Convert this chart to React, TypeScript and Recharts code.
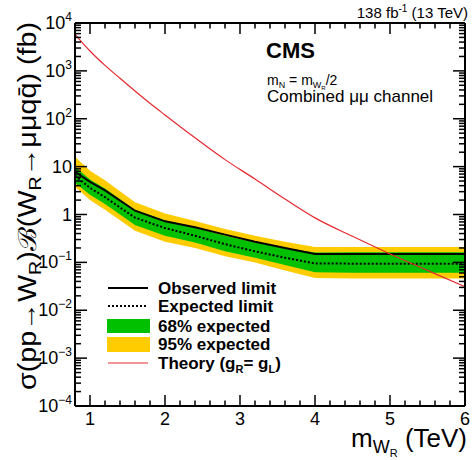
import React from "react";
import { ComposedChart, Area, Line, XAxis, YAxis } from "recharts";

const FONT = "'Liberation Sans', Arial, Helvetica, sans-serif";

// W_R mass points (TeV) for the limits
const masses = [0.8, 1.0, 1.2, 1.6, 2.0, 2.4, 2.8, 3.2, 3.6, 4.0, 4.5, 5.0, 5.5, 6.0];
const observed = [7.8, 4.8, 3.2, 1.2, 0.72, 0.54, 0.38, 0.27, 0.2, 0.15, 0.15, 0.15, 0.15, 0.15];
const expected = [6.5, 3.6, 2.3, 0.86, 0.52, 0.36, 0.24, 0.17, 0.125, 0.095, 0.094, 0.094, 0.094, 0.094];
const band68Low = [4.6, 2.6, 1.65, 0.6, 0.36, 0.26, 0.17, 0.125, 0.088, 0.062, 0.061, 0.061, 0.061, 0.061];
const band68High = [10, 5.4, 3.5, 1.25, 0.76, 0.53, 0.36, 0.26, 0.2, 0.16, 0.162, 0.162, 0.162, 0.162];
const band95Low = [3.8, 2.0, 1.25, 0.46, 0.27, 0.2, 0.135, 0.1, 0.068, 0.047, 0.046, 0.046, 0.046, 0.046];
const band95High = [16, 8.2, 5.2, 1.8, 1.05, 0.73, 0.5, 0.36, 0.27, 0.21, 0.21, 0.21, 0.21, 0.21];

// theory cross section (g_R = g_L)
const theoryMasses = [0.8, 1.0, 1.2, 1.4, 1.6, 1.8, 2.0, 2.4, 2.8, 3.2, 3.6, 4.0, 4.5, 5.0, 5.5, 6.0];
const theoryXsec = [5800, 2600, 1300, 700, 380, 210, 120, 40, 14, 5.5, 2.1, 0.85, 0.35, 0.15, 0.068, 0.031];

const yDecades = [-4, -3, -2, -1, 0, 1, 2, 3];
const xMajor = [1, 2, 3, 4, 5, 6];

const limitData = masses.map((m, i) => ({
  m,
  obs: observed[i],
  exp: expected[i],
  b68: [band68Low[i], band68High[i]],
  b95: [band95Low[i], band95High[i]],
}));
const theoryData = theoryMasses.map((m, i) => ({ m, theory: theoryXsec[i] }));

const yTicks = [
  ...yDecades.flatMap((e) => [1, 2, 3, 4, 5, 6, 7, 8, 9].map((k) => k * Math.pow(10, e))),
  1e4,
];
const xTicks = Array.from({ length: 26 }, (_, i) => +(1 + i * 0.2).toFixed(1));

// plot box that the margins / axis sizes below produce
const X_DOMAIN = [0.8, 6];
const Y_DOMAIN_EXP = [-4, 4];
const BOX = { left: 75, right: 465, top: 23, bottom: 406 };
const xPx = (v: number) =>
  BOX.left + ((v - X_DOMAIN[0]) / (X_DOMAIN[1] - X_DOMAIN[0])) * (BOX.right - BOX.left);
const yPx = (v: number) =>
  BOX.top + ((Y_DOMAIN_EXP[1] - Math.log10(v)) / (Y_DOMAIN_EXP[1] - Y_DOMAIN_EXP[0])) * (BOX.bottom - BOX.top);

function isMajorY(v: number) {
  const e = Math.round(Math.log10(v));
  return Math.abs(v / Math.pow(10, e) - 1) < 1e-6;
}

function yLabel(v: number) {
  const e = Math.round(Math.log10(v));
  if (e === 0) return <>1</>;
  if (e === 1) return <>10</>;
  return (
    <>
      10
      <tspan dy={-8} fontSize={12}>
        {e < 0 ? "\u2212" + -e : e}
      </tspan>
    </>
  );
}

function LeftTick(props: any) {
  const { x, y, payload } = props;
  if (!isMajorY(payload.value)) return <g />;
  return (
    <text x={x - 3} y={y + 6} textAnchor="end" fontSize={18} fontFamily={FONT} fill="#000">
      {yLabel(payload.value)}
    </text>
  );
}

function BottomTick(props: any) {
  const { x, y, payload } = props;
  if (!xMajor.includes(payload.value)) return <g />;
  return (
    <text x={x} y={y + 19} textAnchor="middle" fontSize={18} fontFamily={FONT} fill="#000">
      {payload.value}
    </text>
  );
}

const GREEN = "#00c000";
const YELLOW = "#ffcc00";
const RED = "#e42a30";

function TickMarks() {
  return (
    <g stroke="#000" strokeWidth={1.5}>
      {xTicks.map((v) => {
        const len = xMajor.includes(v) ? 11 : 5.5;
        const px = xPx(v);
        return (
          <g key={"x" + v}>
            <line x1={px} x2={px} y1={BOX.bottom} y2={BOX.bottom - len} />
            <line x1={px} x2={px} y1={BOX.top} y2={BOX.top + len} />
          </g>
        );
      })}
      {yTicks.map((v) => {
        const len = isMajorY(v) ? 12 : 6;
        const py = yPx(v);
        return (
          <g key={"y" + v}>
            <line x1={BOX.left} x2={BOX.left + len} y1={py} y2={py} />
            <line x1={BOX.right} x2={BOX.right - len} y1={py} y2={py} />
          </g>
        );
      })}
    </g>
  );
}

function Overlay() {
  const rows = [288, 306, 326, 344, 363];
  return (
    <svg
      width={472}
      height={460}
      style={{ position: "absolute", left: 0, top: 0, pointerEvents: "none" }}
      fontFamily={FONT}
    >
      <TickMarks />
      <text x={468} y={18} textAnchor="end" fontSize={15}>
        138 fb<tspan dy={-6} fontSize={10}>-1</tspan>
        <tspan dy={6}> (13 TeV)</tspan>
      </text>
      <text x={266} y={58} fontSize={22} fontWeight="bold">
        CMS
      </text>
      <text x={267} y={85} fontSize={14}>
        m<tspan dy={3} fontSize={9}>N</tspan>
        <tspan dy={-3}> = m</tspan>
        <tspan dy={3} fontSize={9}>W</tspan>
        <tspan dy={2} fontSize={6}>R</tspan>
        <tspan dy={-5}>/2</tspan>
      </text>
      <text x={267} y={102} fontSize={17}>
        Combined μμ channel
      </text>

      {/* y title */}
      <text
        transform="translate(36,22) rotate(-90)"
        textAnchor="end"
        fontSize={25}
        textLength={368}
        lengthAdjust="spacingAndGlyphs"
      >
        σ(pp→W<tspan dy={5} fontSize={17}>R</tspan>
        <tspan dy={-5}>)ℬ(W</tspan>
        <tspan dy={5} fontSize={17}>R</tspan>
        <tspan dy={-5}>→μμqq̄) (fb)</tspan>
      </text>

      {/* x title */}
      <text x={467} y={447} textAnchor="end" fontSize={26}>
        m<tspan dy={6} fontSize={18}>W</tspan>
        <tspan dy={4} fontSize={11}>R</tspan>
        <tspan dy={-10}> (TeV)</tspan>
      </text>

      {/* legend */}
      <line x1={108} x2={148} y1={rows[0]} y2={rows[0]} stroke="#000" strokeWidth={2} />
      <line x1={108} x2={148} y1={rows[1]} y2={rows[1]} stroke="#000" strokeWidth={2} strokeDasharray="2 2" />
      <rect x={107} y={rows[2] - 7} width={43} height={14} fill={GREEN} />
      <rect x={107} y={rows[3] - 7} width={43} height={15} fill={YELLOW} />
      <line x1={108} x2={148} y1={rows[4]} y2={rows[4]} stroke={RED} strokeWidth={1.2} />
      <g fontSize={17} fontWeight="bold">
        <text x={158} y={rows[0] + 6}>Observed limit</text>
        <text x={158} y={rows[1] + 6}>Expected limit</text>
        <text x={158} y={rows[2] + 6}>68% expected</text>
        <text x={158} y={rows[3] + 6}>95% expected</text>
        <text x={158} y={rows[4] + 6}>
          Theory (g<tspan dy={4} fontSize={11}>R</tspan>
          <tspan dy={-4}>= g</tspan>
          <tspan dy={4} fontSize={11}>L</tspan>
          <tspan dy={-4}>)</tspan>
        </text>
      </g>
    </svg>
  );
}

export default function App() {
  return (
    <div style={{ position: "absolute", left: 0, top: 0, width: 472, height: 460, background: "#fff" }}>
      <ComposedChart
        width={472}
        height={460}
        data={limitData}
        margin={{ top: 22, right: 6, left: 0, bottom: 0 }}
      >
        <Area
          xAxisId="b"
          yAxisId="l"
          dataKey="b95"
          type="linear"
          stroke="none"
          fill={YELLOW}
          fillOpacity={1}
          isAnimationActive={false}
        />
        <Area
          xAxisId="b"
          yAxisId="l"
          dataKey="b68"
          type="linear"
          stroke="none"
          fill={GREEN}
          fillOpacity={1}
          isAnimationActive={false}
        />
        <Line
          xAxisId="b"
          yAxisId="l"
          dataKey="exp"
          type="linear"
          stroke="#000"
          strokeWidth={2}
          strokeDasharray="2 2"
          dot={false}
          isAnimationActive={false}
        />
        <Line
          xAxisId="b"
          yAxisId="l"
          dataKey="obs"
          type="linear"
          stroke="#000"
          strokeWidth={2}
          dot={false}
          isAnimationActive={false}
        />
        <Line
          xAxisId="b"
          yAxisId="l"
          data={theoryData}
          dataKey="theory"
          type="monotone"
          stroke={RED}
          strokeWidth={1.2}
          dot={false}
          isAnimationActive={false}
        />
        <XAxis
          xAxisId="b"
          dataKey="m"
          type="number"
          domain={X_DOMAIN}
          ticks={xTicks}
          interval={0}
          height={54}
          tickSize={0}
          tickMargin={0}
          tickLine={false}
          tick={BottomTick}
          axisLine={{ stroke: "#000", strokeWidth: 2 }}
        />
        <XAxis
          xAxisId="t"
          orientation="top"
          dataKey="m"
          type="number"
          domain={X_DOMAIN}
          ticks={xTicks}
          interval={0}
          height={1}
          tickSize={0}
          tickMargin={0}
          tickLine={false}
          tick={false}
          axisLine={{ stroke: "#000", strokeWidth: 2 }}
        />
        <YAxis
          yAxisId="l"
          scale="log"
          type="number"
          domain={[1e-4, 1e4]}
          ticks={yTicks}
          interval={0}
          width={75}
          tickSize={0}
          tickMargin={0}
          tickLine={false}
          tick={LeftTick}
          axisLine={{ stroke: "#000", strokeWidth: 2 }}
        />
        <YAxis
          yAxisId="r"
          orientation="right"
          scale="log"
          type="number"
          domain={[1e-4, 1e4]}
          ticks={yTicks}
          interval={0}
          width={1}
          tickSize={0}
          tickMargin={0}
          tickLine={false}
          tick={false}
          axisLine={{ stroke: "#000", strokeWidth: 2 }}
        />
      </ComposedChart>
      <Overlay />
    </div>
  );
}
